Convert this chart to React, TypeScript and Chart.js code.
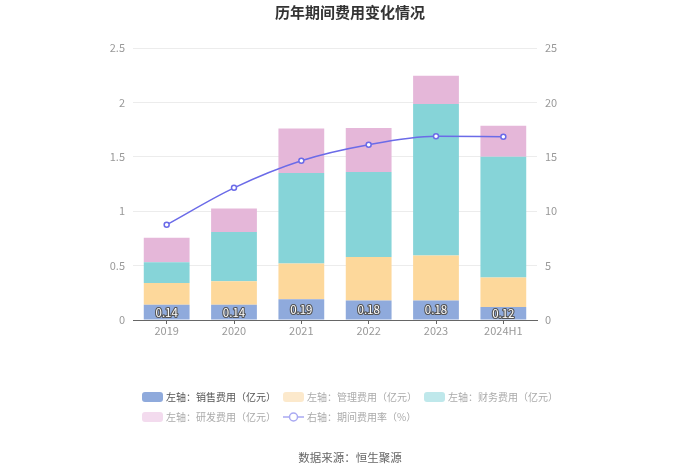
import React, { useEffect, useRef } from "react";
import { Chart, registerables } from "chart.js";

Chart.register(...registerables);

const categories = ["2019", "2020", "2021", "2022", "2023", "2024H1"];
const salesExpense = [0.14, 0.14, 0.19, 0.18, 0.18, 0.12];
const adminExpense = [0.2, 0.217, 0.33, 0.4, 0.413, 0.27];
const financeExpense = [0.19, 0.452, 0.83, 0.78, 1.393, 1.11];
const rdExpense = [0.225, 0.215, 0.41, 0.405, 0.259, 0.286];
const expenseRate = [8.76, 12.15, 14.64, 16.11, 16.88, 16.85];

const leftTicks = [0, 0.5, 1, 1.5, 2, 2.5];
const rightTicks = [0, 5, 10, 15, 20, 25];

const seriesNames = [
  "左轴：销售费用（亿元）",
  "左轴：管理费用（亿元）",
  "左轴：财务费用（亿元）",
  "左轴：研发费用（亿元）",
  "右轴：期间费用率（%）",
];
const titleText = "历年期间费用变化情况";
const sourceText = "数据来源：恒生聚源";

const FONT = "'Noto Sans CJK SC', 'Microsoft YaHei', sans-serif";
const COLORS = ["#8FAADC", "#FDD89B", "#86D4D8", "#E5B7D9"];
const LEGEND_COLORS = ["#8FAADC", "#FCE9CC", "#BFE8EB", "#F3DBEE"];
const LINE_COLOR = "#6B6BE8";

const decorPlugin = {
  id: "decor",
  afterDatasetsDraw(chart: any) {
    const ctx = chart.ctx;
    const meta = chart.getDatasetMeta(0);
    ctx.save();
    ctx.font = `11.5px ${FONT}`;
    ctx.textAlign = "center";
    ctx.textBaseline = "middle";
    ctx.lineJoin = "round";
    meta.data.forEach((bar: any, i: number) => {
      const y = (bar.y + bar.base) / 2;
      const t = salesExpense[i].toFixed(2);
      ctx.lineWidth = 2.2;
      ctx.strokeStyle = "#555555";
      ctx.strokeText(t, bar.x, y);
      ctx.fillStyle = "#ffffff";
      ctx.fillText(t, bar.x, y);
    });
    ctx.restore();
  },
  afterDraw(chart: any) {
    const ctx = chart.ctx;
    ctx.save();
    ctx.font = `bold 15px ${FONT}`;
    ctx.fillStyle = "#333333";
    ctx.textAlign = "center";
    ctx.textBaseline = "middle";
    ctx.fillText(titleText, 350, 12);
    ctx.font = `11.5px ${FONT}`;
    ctx.fillStyle = "#666666";
    ctx.fillText(sourceText, 350, 458);
    const cols = [142, 283, 424];
    const rows = [397, 417];
    ctx.font = `10px ${FONT}`;
    ctx.textAlign = "left";
    seriesNames.forEach((name, i) => {
      const x = cols[i % 3];
      const y = rows[Math.floor(i / 3)];
      if (i < 4) {
        ctx.fillStyle = LEGEND_COLORS[i];
        const w = 21, h = 10, r = 3;
        ctx.beginPath();
        ctx.moveTo(x + r, y - h / 2);
        ctx.arcTo(x + w, y - h / 2, x + w, y + h / 2, r);
        ctx.arcTo(x + w, y + h / 2, x, y + h / 2, r);
        ctx.arcTo(x, y + h / 2, x, y - h / 2, r);
        ctx.arcTo(x, y - h / 2, x + w, y - h / 2, r);
        ctx.closePath();
        ctx.fill();
      } else {
        ctx.strokeStyle = "#A9A9F2";
        ctx.lineWidth = 1.5;
        ctx.beginPath();
        ctx.moveTo(x, y);
        ctx.lineTo(x + 21, y);
        ctx.stroke();
        ctx.beginPath();
        ctx.arc(x + 10.5, y, 4, 0, Math.PI * 2);
        ctx.fillStyle = "#ffffff";
        ctx.fill();
        ctx.stroke();
      }
      ctx.fillStyle = i === 0 ? "#555555" : "#aaaaaa";
      ctx.fillText(name, x + 24, y + 0.5);
    });
    ctx.restore();
  },
};

export default function App() {
  const canvasRef = useRef<HTMLCanvasElement | null>(null);

  useEffect(() => {
    document.body.style.margin = "0";
    const canvas = canvasRef.current;
    if (!canvas) return;
    const barCommon = {
      type: "bar" as const,
      yAxisID: "y",
      stack: "s",
      categoryPercentage: 1,
      barPercentage: 0.68,
      order: 1,
      borderWidth: 0,
    };
    const chart = new Chart(canvas, {
      type: "bar",
      data: {
        labels: categories,
        datasets: [
          { ...barCommon, label: seriesNames[0], data: salesExpense, backgroundColor: COLORS[0] },
          { ...barCommon, label: seriesNames[1], data: adminExpense, backgroundColor: COLORS[1] },
          { ...barCommon, label: seriesNames[2], data: financeExpense, backgroundColor: COLORS[2] },
          { ...barCommon, label: seriesNames[3], data: rdExpense, backgroundColor: COLORS[3] },
          {
            type: "line" as const,
            label: seriesNames[4],
            data: expenseRate,
            yAxisID: "y1",
            order: 0,
            borderColor: LINE_COLOR,
            borderWidth: 1.5,
            pointRadius: 2.5,
            pointBorderWidth: 1.5,
            pointBackgroundColor: "#ffffff",
            pointBorderColor: LINE_COLOR,
            cubicInterpolationMode: "monotone",
          } as any,
        ],
      },
      options: {
        responsive: false,
        animation: false,
        layout: { padding: { top: 48, left: 0, right: 0, bottom: 0 } },
        plugins: {
          legend: { display: false },
          title: { display: false },
          tooltip: { enabled: false },
        },
        scales: {
          x: {
            stacked: true,
            offset: true,
            grid: {
              display: true,
              offset: false,
              drawOnChartArea: false,
              drawTicks: true,
              tickLength: 4,
              color: "#666666",
            },
            border: { display: true, color: "#666666", width: 1 },
            ticks: { color: "#999999", font: { family: FONT, size: 11 }, padding: 0 },
            afterFit: (s: any) => {
              s.height = 154;
            },
          },
          y: {
            type: "linear",
            position: "left",
            stacked: true,
            min: 0,
            max: 2.5,
            afterBuildTicks: (s: any) => {
              s.ticks = leftTicks.map((v) => ({ value: v }));
            },
            grid: { color: "#ececec", drawTicks: false },
            border: { display: false },
            ticks: {
              color: "#999999",
              font: { family: FONT, size: 11 },
              padding: 8,
              callback: (v: any) => String(v),
            },
            afterFit: (s: any) => {
              s.width = 133;
            },
          },
          y1: {
            type: "linear",
            position: "right",
            min: 0,
            max: 25,
            afterBuildTicks: (s: any) => {
              s.ticks = rightTicks.map((v) => ({ value: v }));
            },
            grid: { display: false, drawTicks: false },
            border: { display: false },
            ticks: {
              color: "#999999",
              font: { family: FONT, size: 11 },
              padding: 8,
            },
            afterFit: (s: any) => {
              s.width = 163;
            },
          },
        },
      },
      plugins: [decorPlugin],
    } as any);
    return () => chart.destroy();
  }, []);

  return (
    <div style={{ position: "absolute", left: 0, top: 0, width: 700, height: 474, background: "#fff" }}>
      <canvas ref={canvasRef} width={700} height={474} style={{ width: 700, height: 474 }} />
    </div>
  );
}
